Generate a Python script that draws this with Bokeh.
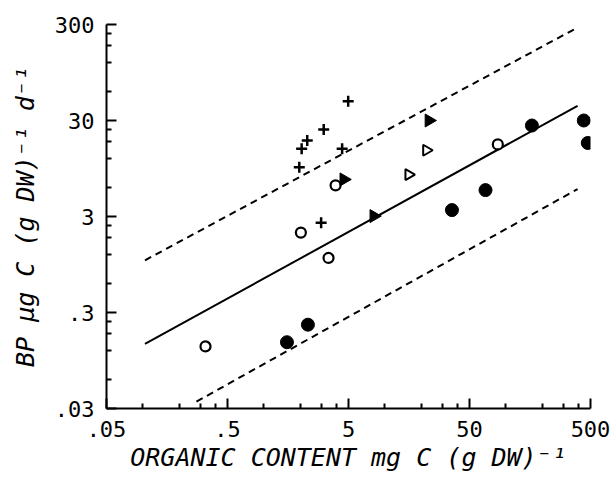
import numpy as np
from bokeh.plotting import figure
from bokeh.models import Range1d, FixedTicker
from bokeh.embed import file_html
from bokeh.resources import INLINE

# ---- data ----
filled_circle_x = [1.55, 2.31, 35.8, 67.8, 164, 440, 475]
filled_circle_y = [0.147, 0.224, 3.50, 5.65, 26.6, 30.0, 17.5]

open_circle_x = [0.329, 2.02, 3.42, 3.91, 85.7]
open_circle_y = [0.133, 2.04, 1.11, 6.33, 16.9]

cross_x = [4.97, 3.12, 2.28, 2.05, 4.43, 1.96, 2.97]
cross_y = [47.5, 24.2, 18.6, 15.2, 15.2, 9.8, 2.59]

filled_tri_x = [4.57, 8.09, 23.1]
filled_tri_y = [7.3, 3.03, 30.0]

open_tri_x = [22.0, 15.7]
open_tri_y = [14.7, 8.2]

fit_x = [0.104, 391]
fit_y = [0.141, 42.7]
upper_x = [0.104, 391]
upper_y = [1.05, 279]
lower_x = [0.277, 391]
lower_y = [0.0354, 5.79]

x_ticks = [0.05, 0.5, 5, 50, 500]
x_tick_labels = [".05", ".5", "5", "50", "500"]
x_minor = [0.1, 0.2, 0.3, 0.4, 1, 2, 3, 4, 10, 20, 30, 40, 100, 200, 300, 400]
y_ticks = [0.03, 0.3, 3, 30, 300]
y_tick_labels = [".03", ".3", "3", "30", "300"]
y_minor = [0.06, 0.12, 0.18, 0.24, 0.6, 1.2, 1.8, 2.4, 6, 12, 18, 24, 60, 120, 180, 240]

x_label = "ORGANIC CONTENT mg C (g DW)\u207b\u00b9"
y_label = "BP \u00b5g C (g DW)\u207b\u00b9 d\u207b\u00b9"

FONT = "DejaVu Sans Mono"

p = figure(width=616, height=481, x_axis_type="log", y_axis_type="log",
           x_range=Range1d(0.05, 500), y_range=Range1d(0.03, 300),
           output_backend="svg", toolbar_location=None,
           min_border_left=106, min_border_right=26, min_border_top=24,
           min_border_bottom=73)
p.outline_line_color = None
p.grid.visible = False
p.background_fill_color = "white"
p.border_fill_color = "white"

# regression and bounds
p.line(fit_x, fit_y, line_color="black", line_width=2)
p.line(upper_x, upper_y, line_color="black", line_width=2, line_dash="7 5")
p.line(lower_x, lower_y, line_color="black", line_width=2, line_dash="7 5")

# markers
p.scatter(filled_circle_x, filled_circle_y, marker="circle", size=13,
          fill_color="black", line_color="black")
p.scatter(open_circle_x, open_circle_y, marker="circle", size=10,
          fill_color="white", line_color="black", line_width=2.2)
p.scatter(cross_x, cross_y, marker="cross", size=11,
          line_color="black", line_width=2.5)
p.scatter(filled_tri_x, filled_tri_y, marker="triangle", size=13,
          angle=-np.pi / 2, fill_color="black", line_color="black")
p.scatter(open_tri_x, open_tri_y, marker="triangle", size=11,
          angle=-np.pi / 2, fill_color="white", line_color="black", line_width=2)

for ax, ticks, minor, labels in ((p.xaxis[0], x_ticks, x_minor, x_tick_labels),
                                 (p.yaxis[0], y_ticks, y_minor, y_tick_labels)):
    ax.ticker = FixedTicker(ticks=ticks, minor_ticks=minor)
    ax.major_label_overrides = {t: l for t, l in zip(ticks, labels)}
    ax.axis_line_width = 2
    ax.axis_line_color = "black"
    ax.major_tick_line_width = 2
    ax.minor_tick_line_width = 2
    ax.major_tick_in = 10
    ax.major_tick_out = 0
    ax.minor_tick_in = 5
    ax.minor_tick_out = 0
    ax.major_label_text_font = FONT
    ax.major_label_text_font_size = "22px"
    ax.major_label_text_color = "black"
    ax.axis_label_text_font = FONT
    ax.axis_label_text_font_style = "italic"
    ax.axis_label_text_font_size = "25px"
    ax.axis_label_text_color = "black"

p.xaxis.axis_label = x_label
p.yaxis.axis_label = y_label
p.xaxis.major_label_standoff = 12
p.xaxis.axis_label_standoff = 3
p.yaxis.major_label_standoff = 12
p.yaxis.axis_label_standoff = 12

open("out.html", "w").write(file_html(p, INLINE))
